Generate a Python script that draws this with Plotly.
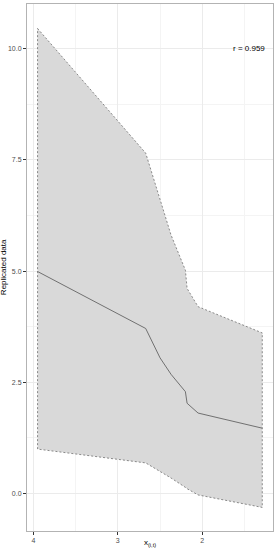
import plotly.graph_objects as go

x_vals = [3.95, 2.67, 2.50, 2.37, 2.20, 2.18, 2.05, 1.29]
upper = [10.45, 7.65, 6.61, 5.81, 5.02, 4.61, 4.20, 3.61]
mean = [4.99, 3.71, 3.05, 2.68, 2.29, 2.03, 1.81, 1.47]
lower = [1.00, 0.69, 0.50, 0.35, 0.14, 0.11, -0.03, -0.31]
x_ticks = [2, 3, 4]
y_ticks = [0.0, 2.5, 5.0, 7.5, 10.0]
y_tick_labels = ["0.0", "2.5", "5.0", "7.5", "10.0"]
r_label = "r = 0.959"

poly_x = x_vals + x_vals[::-1] + [x_vals[0]]
poly_y = upper + lower[::-1] + [upper[0]]

fig = go.Figure()
fig.add_trace(go.Scatter(
    x=poly_x, y=poly_y, mode="lines", fill="toself",
    fillcolor="#d9d9d9",
    line=dict(color="#707070", width=0.8, dash="2px,2px"),
    hoverinfo="skip", showlegend=False))
fig.add_trace(go.Scatter(
    x=x_vals, y=mean, mode="lines",
    line=dict(color="#555555", width=0.8),
    showlegend=False))

fig.add_annotation(x=1.447, y=10.0, text=r_label, showarrow=False,
                   xref="x", yref="y", xanchor="center", yanchor="middle",
                   font=dict(family="Liberation Sans, Arial", size=8, color="#000000"))
fig.add_annotation(x=0.5, y=-0.0235, xref="paper", yref="paper",
                   text="x<sub>(i,t)</sub>", showarrow=False,
                   xanchor="center", yanchor="middle",
                   font=dict(family="Liberation Sans, Arial", size=8, color="#000000"))
fig.add_annotation(x=-0.095, y=0.5, xref="paper", yref="paper",
                   text="Replicated data", showarrow=False, textangle=-90,
                   xanchor="center", yanchor="middle",
                   font=dict(family="Liberation Sans, Arial", size=8, color="#000000"))

axis_common = dict(
    showgrid=True, gridcolor="#ebebeb", gridwidth=0.8,
    zeroline=False, showline=True, linecolor="#b3b3b3", linewidth=1, mirror=True,
    ticks="outside", ticklen=3, tickcolor="#333333", tickwidth=0.8,
    tickfont=dict(family="Liberation Sans, Arial", size=7, color="#4d4d4d"),
    minor=dict(showgrid=True, gridcolor="#f4f4f4", gridwidth=0.5),
)

fig.update_layout(
    width=277, height=550,
    margin=dict(l=27, r=4, t=4, b=19),
    paper_bgcolor="white", plot_bgcolor="white",
    xaxis=dict(range=[4.075, 1.163], tickvals=x_ticks,
               ticktext=[str(v) for v in x_ticks], **axis_common),
    yaxis=dict(range=[-0.84, 11.0], tickvals=y_ticks, ticktext=y_tick_labels,
               **axis_common),
)
fig.update_xaxes(minor=dict(tickvals=[1.5, 2.5, 3.5], ticks=""))
fig.update_yaxes(minor=dict(tickvals=[1.25, 3.75, 6.25, 8.75], ticks=""))

fig.write_html("out.html", config={"displayModeBar": False},
               post_script="document.body.style.margin='0';document.body.style.overflow='hidden';")
